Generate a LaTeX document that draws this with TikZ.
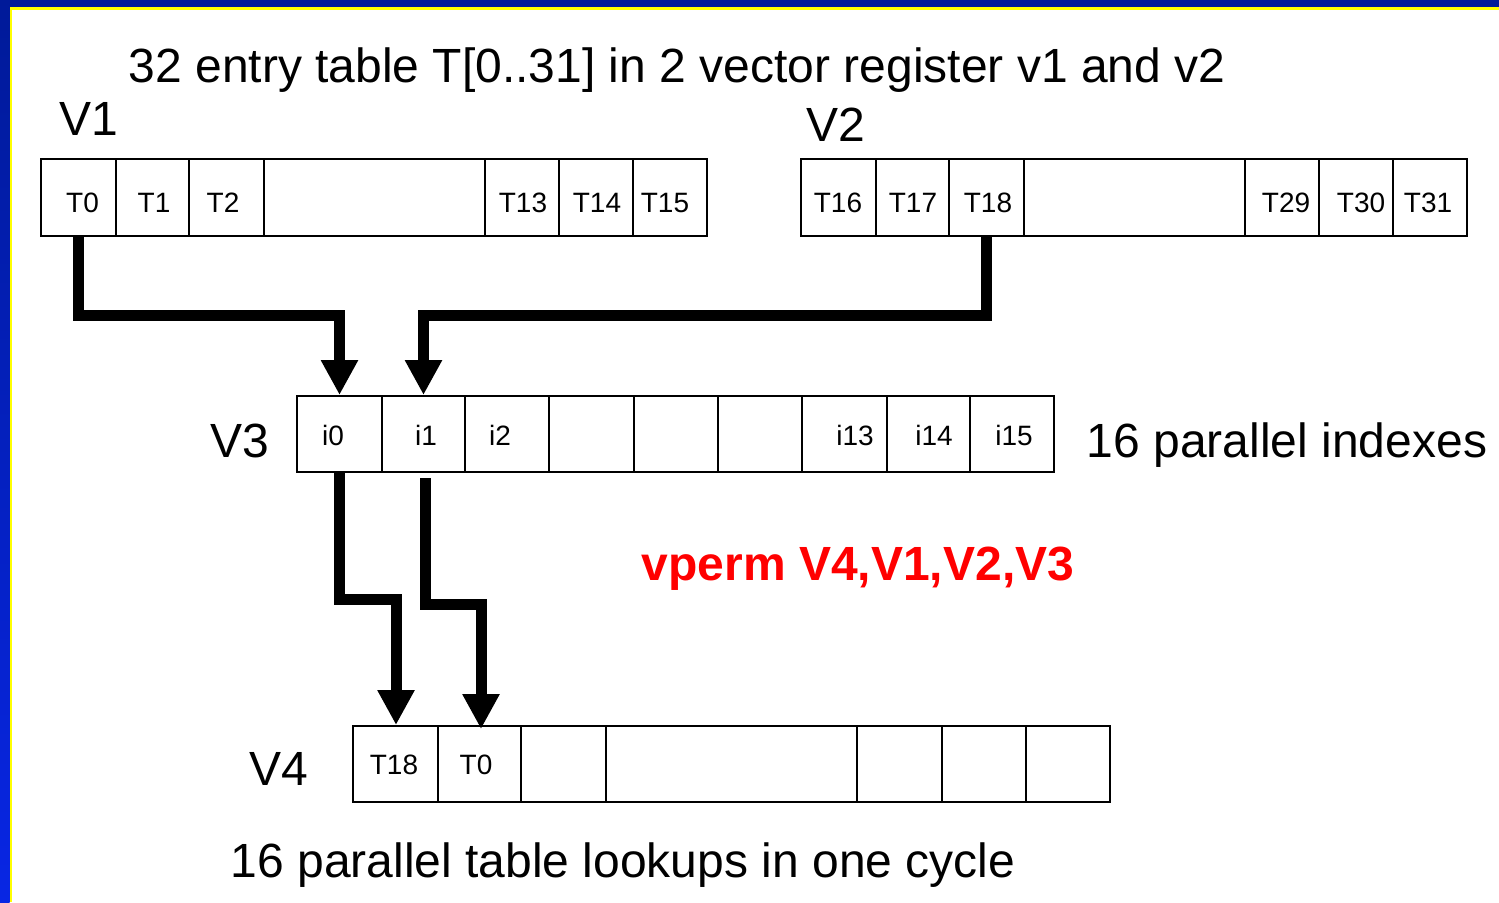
\documentclass[tikz,border=0pt]{standalone}
\usepackage{fontspec}
\setmainfont{Liberation Sans}
\usetikzlibrary{arrows.meta}
\definecolor{navy}{RGB}{0,26,153}
\definecolor{brightblue}{RGB}{8,38,228}
\definecolor{bordery}{RGB}{255,255,0}
\definecolor{vred}{RGB}{255,0,0}
\tikzset{
  cellbox/.style={draw=black, line width=1pt, inner sep=0pt, fill=white},
  celltext/.style={inner sep=0pt, anchor=base, font=\fontsize{14pt}{16pt}\selectfont},
  bigtext/.style={inner sep=0pt, anchor=base, font=\fontsize{24pt}{28pt}\selectfont},
  bigarrow/.style={line width=5.5pt, -{Triangle[length=17.5pt,width=17.5pt]}},
}
\newcommand{\cellat}[5]{%
  \node[cellbox, minimum width={(#3-#2)*0.5pt}, minimum height={(#5-#4)*0.5pt}] (#1) at ({(#2+#3)/2},{(#4+#5)/2}) {};}
\begin{document}
\begin{tikzpicture}[x=0.5pt,y=-0.5pt]
\useasboundingbox (0,0) rectangle (1499,902);
\fill[white] (0,0) rectangle (1499,902);
% border
\fill[navy] (0,0) rectangle (1499,7);
\fill[bordery] (9,7) rectangle (1499,9.5);
\shade[top color=navy, bottom color=brightblue] (0,0) rectangle (9.5,902);
\fill[bordery] (9.5,7) rectangle (11.5,902);

% texts
\node[bigtext] (title) at (677,82) {32 entry table T[0..31] in 2 vector register v1 and v2};
\node[bigtext] (lv1) at (88.5,135) {V1};
\node[bigtext] (lv2) at (835.5,141) {V2};
\node[bigtext] (lv3) at (239.5,457) {V3};
\node[bigtext] (lv4) at (279,785) {V4};
\node[bigtext] (idx) at (1287,457) {16 parallel indexes};
\node[bigtext, text=vred, font=\fontsize{24pt}{28pt}\selectfont\bfseries] (vperm) at (858,580) {vperm V4,V1,V2,V3};
\node[bigtext] (lookup) at (623,877) {16 parallel table lookups in one cycle};

% V1 row
\cellat{a0}{41}{116}{159}{236}
\cellat{a1}{116}{189}{159}{236}
\cellat{a2}{189}{264}{159}{236}
\cellat{a3}{264}{485}{159}{236}
\cellat{a4}{485}{559}{159}{236}
\cellat{a5}{559}{633}{159}{236}
\cellat{a6}{633}{707}{159}{236}
\node[celltext] (ta0) at (82.5,212) {T0};
\node[celltext] (ta1) at (154,212) {T1};
\node[celltext] (ta2) at (223,212) {T2};
\node[celltext] (ta4) at (523,212) {T13};
\node[celltext] (ta5) at (597,212) {T14};
\node[celltext] (ta6) at (665,212) {T15};

% V2 row
\cellat{b0}{801}{876}{159}{236}
\cellat{b1}{876}{949}{159}{236}
\cellat{b2}{949}{1024}{159}{236}
\cellat{b3}{1024}{1245}{159}{236}
\cellat{b4}{1245}{1319}{159}{236}
\cellat{b5}{1319}{1393}{159}{236}
\cellat{b6}{1393}{1467}{159}{236}
\node[celltext] (tb0) at (838,212) {T16};
\node[celltext] (tb1) at (913,212) {T17};
\node[celltext] (tb2) at (988,212) {T18};
\node[celltext] (tb4) at (1286,212) {T29};
\node[celltext] (tb5) at (1361,212) {T30};
\node[celltext] (tb6) at (1428,212) {T31};

% V3 row
\cellat{c0}{297}{382}{396}{472}
\cellat{c1}{382}{465}{396}{472}
\cellat{c2}{465}{549}{396}{472}
\cellat{c3}{549}{634}{396}{472}
\cellat{c4}{634}{718}{396}{472}
\cellat{c5}{718}{802}{396}{472}
\cellat{c6}{802}{887}{396}{472}
\cellat{c7}{887}{970}{396}{472}
\cellat{c8}{970}{1054}{396}{472}
\node[celltext] (tc0) at (333,445) {i0};
\node[celltext] (tc1) at (426,445) {i1};
\node[celltext] (tc2) at (500,445) {i2};
\node[celltext] (tc6) at (855,445) {i13};
\node[celltext] (tc7) at (934,445) {i14};
\node[celltext] (tc8) at (1014,445) {i15};

% V4 row
\cellat{d0}{353}{438}{726}{802}
\cellat{d1}{438}{521}{726}{802}
\cellat{d2}{521}{606}{726}{802}
\cellat{d3}{606}{857}{726}{802}
\cellat{d4}{857}{942}{726}{802}
\cellat{d5}{942}{1026}{726}{802}
\cellat{d6}{1026}{1110}{726}{802}
\node[celltext] (td0) at (394,774) {T18};
\node[celltext] (td1) at (476,774) {T0};

% arrows
\coordinate (k1) at (339.5,315.5);
\coordinate (k2) at (423.5,315.5);
\coordinate (k3) at (396,599);
\coordinate (k4) at (481,604);
\draw[bigarrow] (a0.south) |- (k1) -- (k1 |- c0.north);
\draw[bigarrow] (b2.south) |- (k2) -- (k2 |- c1.north);
\draw[bigarrow] (c0.south) |- (k3) -- (k3 |- d0.north);
\draw[bigarrow] ([xshift=1pt,yshift=-2.5pt]c1.south) |- (k4) -- ([yshift=-2pt]k4 |- d1.north);
\end{tikzpicture}
\end{document}
